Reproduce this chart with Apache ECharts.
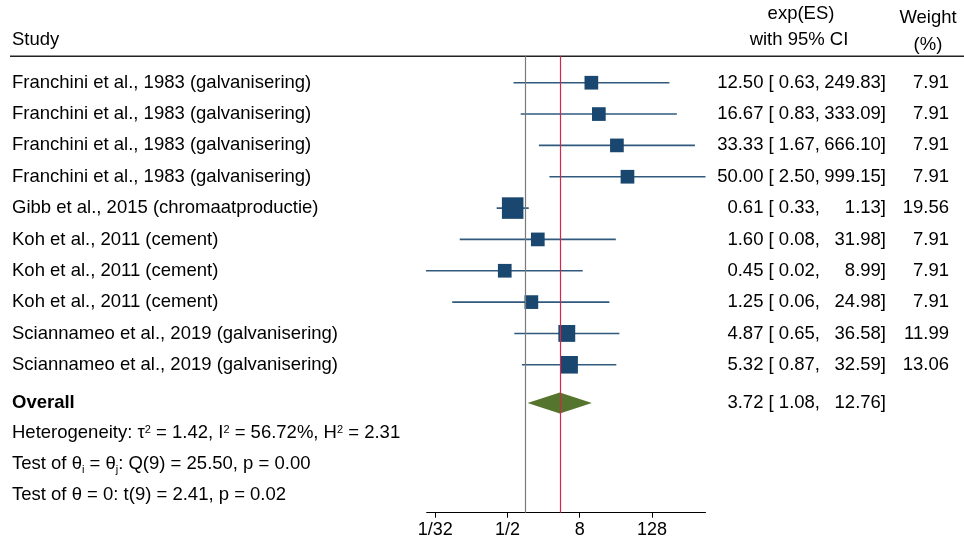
<!DOCTYPE html>
<html><head><meta charset="utf-8">
<script src="https://cdn.jsdelivr.net/npm/echarts@6/dist/echarts.min.js"></script>
<style>html,body{margin:0;padding:0;background:#fff}#c{width:964px;height:544px}</style>
</head><body><div id="c"></div>
<script>
// ---- data ----
const studies = [
  'Franchini et al., 1983 (galvanisering)',
  'Franchini et al., 1983 (galvanisering)',
  'Franchini et al., 1983 (galvanisering)',
  'Franchini et al., 1983 (galvanisering)',
  'Gibb et al., 2015 (chromaatproductie)',
  'Koh et al., 2011 (cement)',
  'Koh et al., 2011 (cement)',
  'Koh et al., 2011 (cement)',
  'Sciannameo et al., 2019 (galvanisering)',
  'Sciannameo et al., 2019 (galvanisering)'
];
const es      = [12.50, 16.67, 33.33, 50.00, 0.61, 1.60, 0.45, 1.25, 4.87, 5.32];
const lower   = [0.63, 0.83, 1.67, 2.50, 0.33, 0.08, 0.02, 0.06, 0.65, 0.87];
const upper   = [249.83, 333.09, 666.10, 999.15, 1.13, 31.98, 8.99, 24.98, 36.58, 32.59];
const weights = [7.91, 7.91, 7.91, 7.91, 19.56, 7.91, 7.91, 7.91, 11.99, 13.06];
const overallES = 3.72, overallLo = 1.08, overallHi = 12.76;
const tickValues = [1/32, 1/2, 8, 128];
const tickLabels = ['1/32', '1/2', '8', '128'];

// ---- layout ----
const FONT = '"Liberation Sans", Arial, Helvetica, sans-serif';
const FS = 18.5;
const L2 = Math.log2;
const overallRow = 10.22;
const chart = echarts.init(document.getElementById('c'));

const ciData = studies.map((s, i) => [L2(lower[i]), L2(upper[i]), i]);
const sqData = studies.map((s, i) => [L2(es[i]), i, weights[i]]);
const tickPos = tickValues.map(v => L2(v));

chart.setOption({
  animation: false,
  backgroundColor: '#fff',
  grid: { left: 426.7, right: 964 - 705.5, top: 56.3, bottom: 544 - 512.7, containLabel: false },
  xAxis: {
    type: 'value', min: -5.474, max: L2(999.15),
    axisLine: { show: true, onZero: false, lineStyle: { color: '#000', width: 1 } },
    axisTick: { show: true, customValues: tickPos, length: 5, lineStyle: { color: '#000', width: 1 } },
    axisLabel: {
      customValues: tickPos, color: '#000', fontFamily: FONT, fontSize: 18, margin: 8,
      formatter: v => { const k = tickPos.findIndex(t => Math.abs(t - v) < 1e-6); return k >= 0 ? tickLabels[k] : ''; }
    },
    splitLine: { show: false }
  },
  yAxis: {
    type: 'value', inverse: true, min: -0.843, max: 13.72, show: false,
    splitLine: { show: false }
  },
  series: [
    {
      type: 'custom', z: 1, clip: true, data: ciData,
      renderItem: (p, api) => {
        const a = api.coord([api.value(0), api.value(2)]);
        const b = api.coord([api.value(1), api.value(2)]);
        return { type: 'line', shape: { x1: a[0], y1: a[1], x2: b[0], y2: b[1] },
                 style: { stroke: '#1a476f', lineWidth: 1.6, opacity: 0.9 } };
      }
    },
    {
      type: 'scatter', z: 2, data: [],
      markLine: {
        silent: true, symbol: 'none', label: { show: false }, animation: false,
        data: [
          { xAxis: 0, lineStyle: { color: '#7a7a7a', width: 1.2, type: 'solid' } },
          { xAxis: L2(overallES), lineStyle: { color: '#d2264b', width: 1.2, type: 'solid' } }
        ]
      }
    },
    {
      type: 'scatter', z: 3, symbol: 'rect', data: sqData,
      symbolSize: d => 4.87 * Math.sqrt(d[2]),
      itemStyle: { color: '#1a476f', opacity: 1 }
    },
    {
      type: 'custom', z: 3, data: [[L2(overallLo), L2(overallES), L2(overallHi), overallRow]],
      renderItem: (p, api) => {
        const y = api.value(3);
        const l = api.coord([api.value(0), y]);
        const c = api.coord([api.value(1), y]);
        const r = api.coord([api.value(2), y]);
        return { type: 'polygon',
                 shape: { points: [[l[0], l[1]], [c[0], c[1] - 10.5], [r[0], r[1]], [c[0], c[1] + 10.5]] },
                 style: { fill: '#55752f' } };
      }
    }
  ]
});

const yPix = k => chart.convertToPixel({ yAxisIndex: 0 }, k);
const txt = (x, y, text, align, extra) => Object.assign({
  type: 'text', x: x, y: y, silent: true,
  style: { text: text, font: FS + 'px ' + FONT, fill: '#000', align: align || 'left', verticalAlign: 'middle' }
}, extra || {});

const g = [];
g.push({ type: 'line', shape: { x1: 10, y1: 56.3, x2: 964, y2: 56.3 }, style: { stroke: '#222', lineWidth: 1.5 } });
g.push(txt(12, 40, 'Study'));
g.push(txt(801, 14, 'exp(ES)', 'center'));
g.push(txt(799, 40, 'with 95% CI', 'center'));
g.push(txt(928, 18, 'Weight', 'center'));
g.push(txt(928, 45, '(%)', 'center'));

studies.forEach((s, i) => {
  const y = yPix(i);
  g.push(txt(12, y, s));
  g.push(txt(820, y, es[i].toFixed(2) + ' [ ' + lower[i].toFixed(2) + ',', 'right'));
  g.push(txt(886, y, upper[i].toFixed(2) + ']', 'right'));
  g.push(txt(949, y, weights[i].toFixed(2), 'right'));
});
const yo = yPix(overallRow);
g.push({ type: 'text', x: 12, y: yo, silent: true,
  style: { text: 'Overall', font: 'bold ' + FS + 'px ' + FONT, fill: '#000', align: 'left', verticalAlign: 'middle' } });
g.push(txt(820, yo, overallES.toFixed(2) + ' [ ' + overallLo.toFixed(2) + ',', 'right'));
g.push(txt(886, yo, overallHi.toFixed(2) + ']', 'right'));

const richBase = {
  n: { fontSize: FS, fontFamily: FONT, color: '#000', lineHeight: 24, verticalAlign: 'middle' },
  s: { fontSize: 11, fontFamily: FONT, color: '#000', lineHeight: 24, verticalAlign: 'top', padding: [4, 0, 0, 0] },
  b: { fontSize: 11, fontFamily: FONT, color: '#000', lineHeight: 24, verticalAlign: 'bottom' }
};
const richTxt = (y, text) => ({ type: 'text', x: 12, y: y, silent: true,
  style: { text: text, rich: richBase, align: 'left', verticalAlign: 'middle', font: FS + 'px ' + FONT } });
g.push(richTxt(yPix(11.16), '{n|Heterogeneity: τ}{s|2}{n| = 1.42, I}{s|2}{n| = 56.72%, H}{s|2}{n| = 2.31}'));
g.push(richTxt(yPix(12.15), '{n|Test of θ}{b|i}{n| = θ}{b|j}{n|: Q(9) = 25.50, p = 0.00}'));
g.push(richTxt(yPix(13.15), '{n|Test of θ = 0: t(9) = 2.41, p = 0.02}'));

chart.setOption({ graphic: g });
</script>
</body></html>
